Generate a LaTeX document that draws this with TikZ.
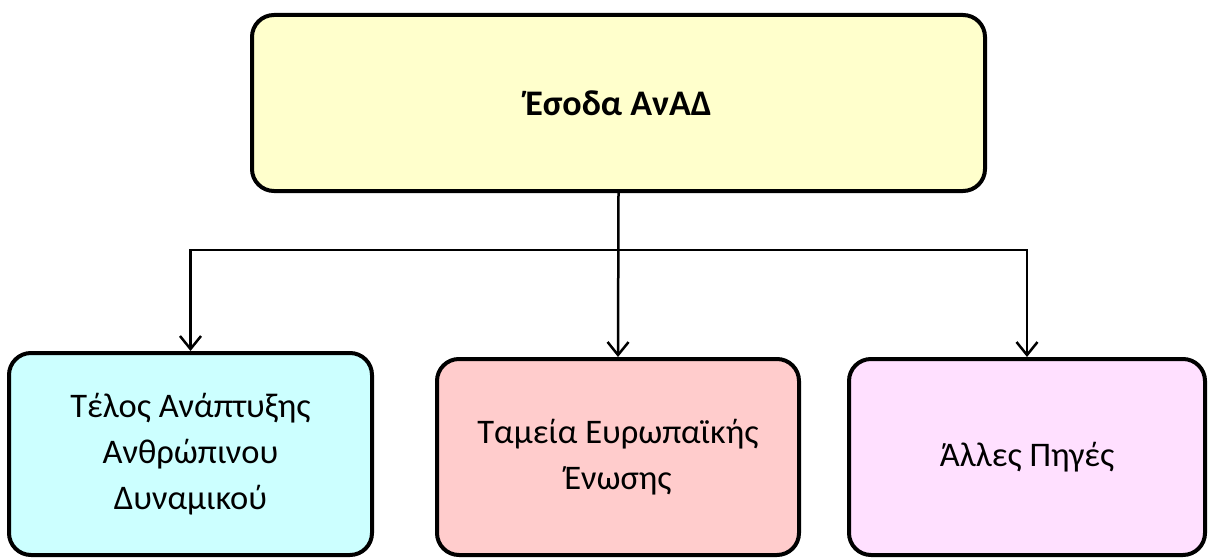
\documentclass[tikz,border=0pt]{standalone}
\usepackage{fontspec}
\setmainfont{Carlito}
\usetikzlibrary{arrows.meta}

\begin{document}
\begin{tikzpicture}[x=1pt,y=1pt,
  box/.style={draw=black,line width=4pt,rounded corners=22pt,align=center,inner sep=0pt,
    font=\fontsize{34.5}{46}\selectfont},
  link/.style={draw=black,line width=2.5pt,-{Straight Barb[length=13pt,width=21pt,line width=2.5pt]}}]
\definecolor{topFill}{RGB}{255,255,204}
\definecolor{leftFill}{RGB}{204,255,255}
\definecolor{midFill}{RGB}{255,204,204}
\definecolor{rightFill}{RGB}{255,224,255}
\path[use as bounding box,fill=white] (0,0) rectangle (1209,558);

\node[box,fill=topFill,minimum width=733pt,minimum height=176pt,
  font=\fontsize{36}{42}\selectfont\bfseries] (income) at (618.5,455) {Έσοδα ΑνΑΔ};

\node[box,fill=leftFill,minimum width=363pt,minimum height=202pt] (fee) at (190.5,104)
  {Τέλος Ανάπτυξης\\Ανθρώπινου\\Δυναμικού};

\node[box,fill=midFill,minimum width=362pt,minimum height=196pt] (eufunds) at (618,101)
  {Ταμεία Ευρωπαϊκής\\Ένωσης};

\node[box,fill=rightFill,minimum width=356pt,minimum height=196pt] (other) at (1027,101)
  {Άλλες Πηγές};

\coordinate (split) at (income.south |- 0,308);

\draw[link] (income.south) -- (eufunds.north);
\draw[link] (split) -| (fee.north);
\draw[link] (split) -| (other.north);
\end{tikzpicture}
\end{document}
